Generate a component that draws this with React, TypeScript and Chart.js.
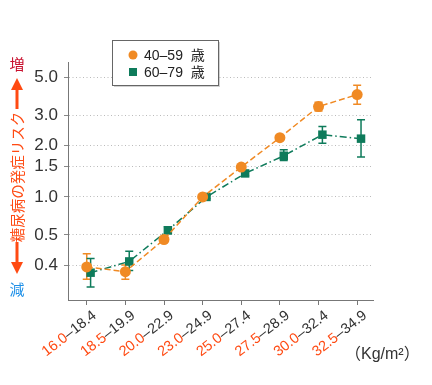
import React, { useEffect, useRef } from "react";
import { Chart, registerables } from "chart.js";
Chart.register(...registerables);

// ---- data ----
const bmiFrom = ["16.0", "18.5", "20.0", "23.0", "25.0", "27.5", "30.0", "32.5"];
const bmiTo = ["–18.4", "–19.9", "–22.9", "–24.9", "–27.4", "–28.9", "–32.4", "–34.9"];

const age4059 = [0.39, 0.366, 0.564, 1.0, 1.495, 2.22, 3.37, 3.96];
const age4059Low = [0.33, 0.33, 0.55, 0.98, 1.46, 2.16, 3.18, 3.48];
const age4059High = [0.465, 0.4, 0.58, 1.02, 1.53, 2.28, 3.57, 4.49];

const age6079 = [0.361, 0.42, 0.639, 1.0, 1.372, 1.74, 2.31, 2.19];
const age6079Low = [0.298, 0.372, 0.61, 0.98, 1.33, 1.63, 2.06, 1.71];
const age6079High = [0.437, 0.482, 0.67, 1.02, 1.42, 1.885, 2.58, 2.82];

const yTickValues = [0.4, 0.6, 1, 1.5, 2, 3, 5];
const yTickLabels = ["0.4", "0.5", "1.0", "1.5", "2.0", "3.0", "5.0"];

const seriesLabels = ["40–59  歳", "60–79  歳"];
const unitLabel = "（Kg/m²）";
const titleText = "糖尿病の発症リスク";
const upText = "増";
const downText = "減";

// ---- styles ----
const ORANGE = "#F08A24";
const GREEN = "#0E7B5B";
const RED_ORANGE = "#FF4A12";
const GREEN_SHIFT = 0.1;
const FONT = "'Liberation Sans', 'Noto Sans CJK JP', sans-serif";
const CJK = "'Noto Sans CJK JP', sans-serif";

const errorBarPlugin = {
  id: "errorBars",
  beforeDatasetsDraw(chart: any) {
    const { ctx, scales } = chart;
    const x = scales.x;
    const y = scales.y;
    const sets: [number[], number[], string, number][] = [
      [age4059Low, age4059High, ORANGE, 0],
      [age6079Low, age6079High, GREEN, GREEN_SHIFT],
    ];
    ctx.save();
    ctx.lineWidth = 1.5;
    for (const [lo, hi, color, shift] of sets) {
      ctx.strokeStyle = color;
      lo.forEach((l, i) => {
        const px = x.getPixelForValue(i + shift);
        const y1 = y.getPixelForValue(l);
        const y2 = y.getPixelForValue(hi[i]);
        ctx.beginPath();
        ctx.moveTo(px, y1);
        ctx.lineTo(px, y2);
        ctx.moveTo(px - 4, y1);
        ctx.lineTo(px + 4, y1);
        ctx.moveTo(px - 4, y2);
        ctx.lineTo(px + 4, y2);
        ctx.stroke();
      });
    }
    ctx.restore();
  },
};

const decorPlugin = {
  id: "decor",
  afterDraw(chart: any) {
    const { ctx, scales, chartArea } = chart;
    const x = scales.x;
    ctx.save();

    // x tick labels, two colours
    ctx.font = `14.5px ${FONT}`;
    ctx.textBaseline = "middle";
    ctx.textAlign = "right";
    bmiFrom.forEach((from, i) => {
      const px = x.getPixelForValue(i);
      ctx.save();
      ctx.translate(px + 8, chartArea.bottom + 14);
      ctx.rotate((-38 * Math.PI) / 180);
      ctx.fillStyle = "#333";
      ctx.fillText(bmiTo[i], 0, 0);
      const w = ctx.measureText(bmiTo[i]).width;
      ctx.fillStyle = RED_ORANGE;
      ctx.fillText(from, -w, 0);
      ctx.restore();
    });

    // unit label
    ctx.font = `16px ${FONT}`;
    ctx.fillStyle = "#333";
    ctx.textAlign = "left";
    ctx.fillText(unitLabel, 345, 355);

    // left title with arrows
    ctx.textAlign = "center";
    ctx.font = `15px ${CJK}`;
    ctx.fillStyle = "#C8102E";
    ctx.fillText(upText, 17, 64);
    ctx.fillStyle = "#1E90E8";
    ctx.fillText(downText, 17, 289);

    ctx.fillStyle = RED_ORANGE;
    ctx.fillRect(15.5, 89, 3, 20);
    ctx.beginPath();
    ctx.moveTo(11, 90);
    ctx.lineTo(23, 90);
    ctx.lineTo(17, 78);
    ctx.closePath();
    ctx.fill();
    ctx.fillRect(15.5, 242, 3, 21);
    ctx.beginPath();
    ctx.moveTo(11, 262);
    ctx.lineTo(23, 262);
    ctx.lineTo(17, 274);
    ctx.closePath();
    ctx.fill();

    ctx.save();
    ctx.translate(17, 177);
    ctx.rotate(-Math.PI / 2);
    ctx.font = `14.5px ${CJK}`;
    ctx.fillStyle = RED_ORANGE;
    ctx.fillText(titleText, 0, 0);
    ctx.restore();

    // legend box
    const bx = 112, by = 40, bw = 106, bh = 45;
    ctx.fillStyle = "rgba(0,0,0,0.18)";
    ctx.fillRect(bx + 2, by + 2, bw, bh);
    ctx.fillStyle = "#fff";
    ctx.fillRect(bx, by, bw, bh);
    ctx.strokeStyle = "#666";
    ctx.lineWidth = 1;
    ctx.strokeRect(bx + 0.5, by + 0.5, bw, bh);

    ctx.fillStyle = ORANGE;
    ctx.beginPath();
    ctx.arc(133, 55, 4.5, 0, Math.PI * 2);
    ctx.fill();
    ctx.fillStyle = GREEN;
    ctx.fillRect(129, 68, 8, 8);

    ctx.fillStyle = "#222";
    ctx.textAlign = "left";
    ctx.font = `14px ${FONT}`;
    ctx.fillText(seriesLabels[0], 144, 56);
    ctx.fillText(seriesLabels[1], 144, 73);

    ctx.restore();
  },
};

export default function App() {
  const ref = useRef<HTMLCanvasElement>(null);
  useEffect(() => {
    document.body.style.margin = "0";
    const canvas = ref.current!;
    const chart = new Chart(canvas, {
      type: "line",
      data: {
        datasets: [
          {
            label: seriesLabels[0],
            data: age4059.map((v, i) => ({ x: i, y: v })),
            borderColor: ORANGE,
            backgroundColor: ORANGE,
            borderWidth: 1.5,
            borderDash: [6, 3],
            pointStyle: "circle",
            pointRadius: 5.5,
            pointBorderWidth: 0,
            tension: 0,
          },
          {
            label: seriesLabels[1],
            data: age6079.map((v, i) => ({ x: i + GREEN_SHIFT, y: v })),
            borderColor: GREEN,
            backgroundColor: GREEN,
            borderWidth: 1.5,
            borderDash: [7, 3, 1.5, 3],
            pointStyle: "rect",
            pointRadius: 6,
            pointBorderWidth: 0,
            tension: 0,
          },
        ],
      },
      options: {
        responsive: false,
        animation: false,
        layout: { padding: { left: 0, top: 62, right: 59, bottom: 0 } },
        plugins: { legend: { display: false }, tooltip: { enabled: false } },
        scales: {
          x: {
            type: "linear",
            min: -0.485,
            max: 7.41,
            afterFit: (s: any) => {
              s.height = 85;
            },
            afterBuildTicks: (s: any) => {
              s.ticks = bmiFrom.map((_, i) => ({ value: i }));
            },
            ticks: { display: false },
            grid: { drawOnChartArea: false, drawTicks: true, tickLength: 5, color: "#777" },
            border: { color: "#777", width: 1 },
          },
          y: {
            type: "logarithmic",
            min: 0.25,
            max: 6.14,
            afterFit: (s: any) => {
              s.width = 68;
            },
            afterBuildTicks: (s: any) => {
              s.ticks = yTickValues.map((v) => ({ value: v }));
            },
            ticks: {
              callback: (_v: any, i: number) => yTickLabels[i],
              font: { size: 17, family: FONT },
              color: "#333",
              padding: 6,
            },
            grid: { color: "#bbb", tickColor: "#888", tickLength: 4 },
            border: { color: "#777", width: 1, dash: [1, 2.5] },
          },
        },
      } as any,
      plugins: [errorBarPlugin, decorPlugin],
    });
    return () => chart.destroy();
  }, []);
  return <canvas ref={ref} width={432} height={385} style={{ display: "block" }} />;
}
